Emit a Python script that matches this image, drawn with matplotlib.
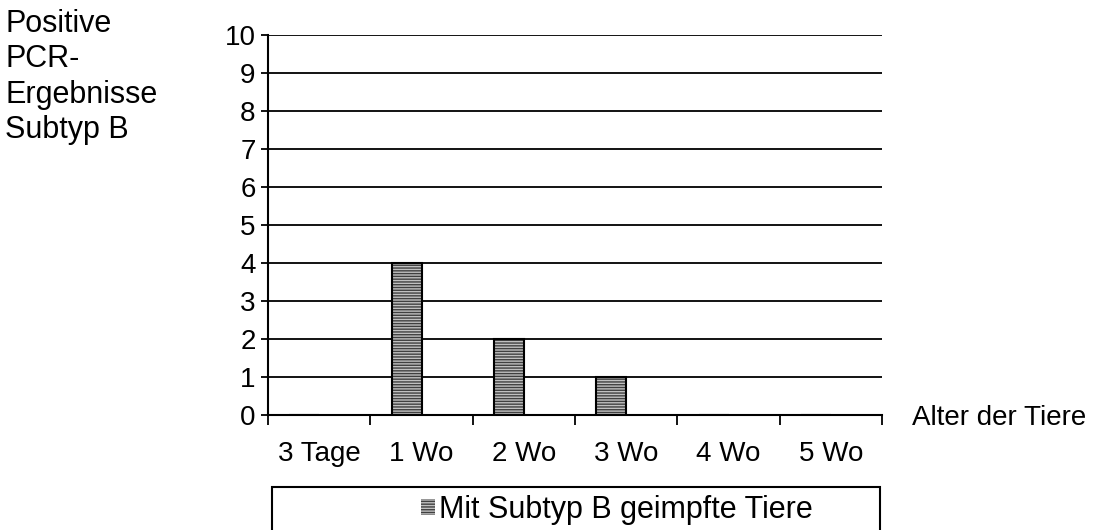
import matplotlib.pyplot as plt
from matplotlib.patches import Rectangle
import numpy as np

# data
categories = ['3 Tage', '1 Wo', '2 Wo', '3 Wo', '4 Wo', '5 Wo']
positive_pcr = [0, 4, 2, 1, 0, 0]
series_label = 'Mit Subtyp B geimpfte Tiere'

plt.rcParams['font.family'] = ['Liberation Sans', 'DejaVu Sans']
plt.rcParams['font.size'] = 20

fig = plt.figure(figsize=(11.02, 5.30), dpi=100)
ax = fig.add_axes([268 / 1102, 1 - 415 / 530, (882 - 268) / 1102, (415 - 35) / 530])

x = np.arange(len(categories))
width = 0.293
pos = x + 0.5 - width / 2

# hatched fill, then black outline
bars = ax.bar(pos, positive_pcr, width=width, color='#c0c0c0', hatch='------',
              edgecolor='#404040', linewidth=0, zorder=3, label=series_label)
ax.bar(pos, positive_pcr, width=width, fill=False, edgecolor='black',
       linewidth=1.5, zorder=4)

ax.set_xlim(0, len(categories))
ax.set_ylim(0, 10)

# horizontal grid lines
for v in range(1, 11):
    ax.axhline(v, color='black', linewidth=1.3, zorder=1)

ax.spines['top'].set_visible(False)
ax.spines['right'].set_visible(False)
ax.spines['left'].set_linewidth(1.5)
ax.spines['bottom'].set_linewidth(1.5)

ax.set_yticks(range(0, 11))
ax.tick_params(axis='y', direction='out', length=5, width=1.3, pad=4)
ax.set_xticks(np.arange(0, len(categories) + 1))
ax.set_xticklabels([])
ax.tick_params(axis='x', direction='out', length=7, width=1.3)
ax.set_xticks(x + 0.5, minor=True)
ax.set_xticklabels(categories, minor=True)
ax.tick_params(axis='x', which='minor', length=0, pad=19)

fig.text(5 / 1102, 1 - 9 / 530, 'Positive\nPCR-\nErgebnisse\nSubtyp B',
         ha='left', va='top', linespacing=1.23, fontsize=22)
fig.text(912 / 1102, 1 - 418 / 530, 'Alter der Tiere', ha='left', va='center')

# legend box running off the bottom edge
fig.add_artist(Rectangle((272 / 1102, -0.05), (880 - 272) / 1102, 0.05 + 43 / 530,
                         transform=fig.transFigure, fill=False,
                         edgecolor='black', linewidth=1.5))
fig.legend(handles=[bars], loc='center left', bbox_to_anchor=(421 / 1102, 1 - 510 / 530),
           frameon=False, handlelength=0.45, handleheight=0.45, handletextpad=0.15,
           borderpad=0, borderaxespad=0, fontsize=22)

fig.savefig('out.png', dpi=100)
